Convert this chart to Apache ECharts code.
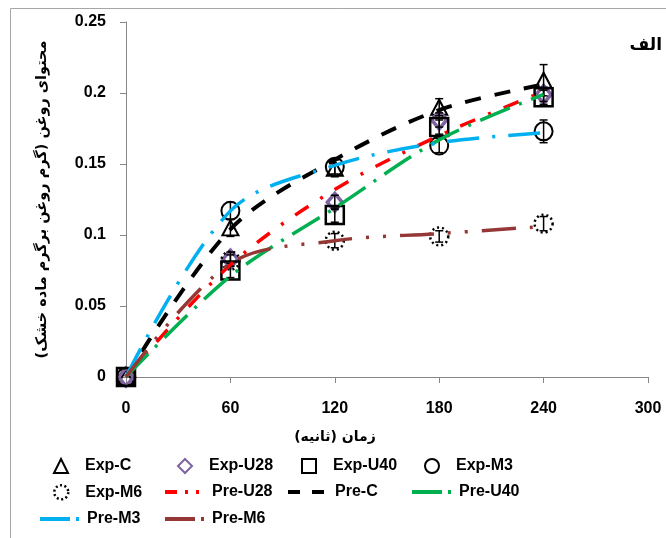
<!DOCTYPE html>
<html><head><meta charset="utf-8">
<script src="https://cdn.jsdelivr.net/npm/echarts@6/dist/echarts.min.js"></script>
<style>html,body{margin:0;padding:0;background:#fff}#c{width:666px;height:538px}</style>
</head><body><div id="c"></div>
<script>
// ---- data ----
const times = [0, 60, 120, 180, 240];
const xTicks = [0, 60, 120, 180, 240, 300];
const yTicks = [0, 0.05, 0.1, 0.15, 0.2, 0.25];

const expC   = [0, 0.105, 0.147, 0.190, 0.209];
const expU28 = [0, 0.083, 0.123, 0.181, 0.199];
const expU40 = [0, 0.075, 0.114, 0.176, 0.197];
const expM3  = [0, 0.117, 0.148, 0.163, 0.173];
const expM6  = [0, 0.082, 0.096, 0.099, 0.108];

const errC   = [0, 0.006, 0.006, 0.006, 0.011];
const errU28 = [0, 0.005, 0.005, 0.005, 0.005];
const errU40 = [0, 0.005, 0.005, 0.005, 0.005];
const errM3  = [0, 0.006, 0.005, 0.005, 0.008];
const errM6  = [0, 0.004, 0.005, 0.004, 0.005];

const preU28 = [0, 0.079, 0.132, 0.170, 0.201];
const preC   = [0, 0.104, 0.153, 0.188, 0.206];
const preU40 = [0, 0.071, 0.119, 0.167, 0.199];
const preM3  = [0, 0.117, 0.149, 0.165, 0.172];
const preM6  = [0, 0.080, 0.096, 0.101, 0.106];

const xTitle = 'زمان (ثانیه)';
const yTitle = 'محتوای روغن (گرم روغن برگرم ماده خشک)';
const panelTitle = 'الف';

// ---- chart ----
const FONT = '"Liberation Sans", Arial, sans-serif';
const pair = arr => times.map((t, i) => [t, arr[i]]);

function expSeries(name, arr, symbol, size, border, borderWidth, borderType) {
  return {
    name, type: 'scatter', data: pair(arr), symbol, symbolSize: size, z: 2,
    itemStyle: { color: 'rgba(255,255,255,0)', borderColor: border, borderWidth, borderType: borderType || 'solid', opacity: 1 }
  };
}
function errSeries(arr, errs) {
  return {
    type: 'custom', silent: true, z: 3,
    data: times.map((t, i) => [t, arr[i], errs[i]]),
    encode: { x: 0, y: 1 },
    renderItem(params, api) {
      const x = api.value(0), y = api.value(1), e = api.value(2);
      if (!e) return null;
      const top = api.coord([x, y + e]), bot = api.coord([x, y - e]);
      const cw = 4, st = { stroke: '#000', lineWidth: 1.5 };
      return { type: 'group', children: [
        { type: 'line', shape: { x1: top[0], y1: top[1], x2: bot[0], y2: bot[1] }, style: st },
        { type: 'line', shape: { x1: top[0] - cw, y1: top[1], x2: top[0] + cw, y2: top[1] }, style: st },
        { type: 'line', shape: { x1: bot[0] - cw, y1: bot[1], x2: bot[0] + cw, y2: bot[1] }, style: st }
      ]};
    }
  };
}
function preSeries(name, arr, color, width, dash) {
  return {
    name, type: 'line', data: pair(arr), symbol: 'none', showSymbol: false, smooth: 0.33, z: 4,
    itemStyle: { color },
    lineStyle: { color, width, type: dash, cap: 'butt' }
  };
}

const TS = { fontFamily: FONT, fontWeight: 'bold', fontSize: 16, color: '#000' };
// legend for a marker item: icon centred at cx
function legExp(name, cx, cy, extra) {
  return Object.assign({
    data: [name], left: cx - 7, top: cy - 9, itemWidth: 14, itemHeight: 14, selectedMode: false, padding: 0,
    textStyle: Object.assign({ padding: [0, 0, 0, 12] }, TS)
  }, extra || {});
}
// legend for a line item: line from x0, text right after
function legPre(name, x0, cy, dash) {
  return {
    data: [name], left: x0, top: cy - 9, itemWidth: 42, itemHeight: 16, selectedMode: false, padding: 0,
    itemStyle: { opacity: 0 },
    lineStyle: { width: 4, type: dash, cap: 'butt' },
    textStyle: TS
  };
}

const chart = echarts.init(document.getElementById('c'), null, { renderer: 'canvas' });
chart.setOption({
  animation: false,
  backgroundColor: '#fff',
  grid: { left: 126, right: 18, top: 22, bottom: 161 },
  xAxis: {
    type: 'value', min: xTicks[0], max: xTicks[xTicks.length - 1], interval: 60,
    axisLine: { lineStyle: { color: '#868686', width: 1 } },
    axisTick: { inside: false, length: 6, lineStyle: { color: '#868686' } },
    splitLine: { show: false },
    axisLabel: { margin: 24, fontFamily: FONT, fontWeight: 'bold', fontSize: 16, color: '#000' }
  },
  yAxis: {
    type: 'value', min: yTicks[0], max: yTicks[yTicks.length - 1], interval: 0.05,
    axisLine: { show: true, lineStyle: { color: '#868686', width: 1 } },
    axisTick: { show: true, inside: false, length: 6, lineStyle: { color: '#868686' } },
    splitLine: { show: false },
    axisLabel: {
      margin: 20, fontFamily: FONT, fontWeight: 'bold', fontSize: 16, color: '#000',
      formatter: v => v === 0 ? '0' : String(+v.toFixed(2))
    },
    name: yTitle, nameLocation: 'middle', nameRotate: 90, nameGap: 76,
    nameTextStyle: { fontFamily: '"DejaVu Sans", sans-serif', fontWeight: 'bold', fontSize: 14.5, color: '#000' }
  },
  legend: [
    legExp('Exp-C', 60, 467), legExp('Exp-U28', 184, 467), legExp('Exp-U40', 308, 467), legExp('Exp-M3', 431, 467),
    legExp('Exp-M6', 60, 493, { itemStyle: { borderType: [2, 2.5], borderWidth: 2.5, borderColor: '#000', color: 'rgba(255,255,255,0)' } }),
    legPre('Pre-U28', 163, 493, [12, 8, 3, 8, 3, 8]), legPre('Pre-C', 286, 493, [12, 12]), legPre('Pre-U40', 410, 493, [30, 6, 3, 6]),
    legPre('Pre-M3', 38, 520, [30, 6, 3, 6]), legPre('Pre-M6', 163, 520, [30, 6, 3, 6])
  ],
  graphic: [
    { type: 'rect', shape: { x: 10.5, y: 8.5, width: 700, height: 600 }, style: { fill: null, stroke: '#a6a6a6', lineWidth: 1 }, silent: true },
    { type: 'text', x: 335, y: 437, style: { text: xTitle, fontFamily: '"DejaVu Sans", sans-serif', fontWeight: 'bold', fontSize: 14, fill: '#000', align: 'center', verticalAlign: 'middle' } },
    { type: 'text', x: 662, y: 46, style: { text: panelTitle, fontFamily: '"DejaVu Sans", sans-serif', fontWeight: 'bold', fontSize: 17, fill: '#000', align: 'right', verticalAlign: 'middle' } }
  ],
  series: [
    expSeries('Exp-C', expC, 'triangle', [16, 15], '#000', 2),
    expSeries('Exp-U28', expU28, 'diamond', [15, 18], '#7f63a1', 3.5),
    expSeries('Exp-U40', expU40, 'rect', 18, '#000', 2.5),
    expSeries('Exp-M3', expM3, 'circle', 18, '#000', 2),
    expSeries('Exp-M6', expM6, 'circle', 18, '#000', 2.5, [2, 3]),
    errSeries(expC, errC), errSeries(expU28, errU28), errSeries(expU40, errU40),
    errSeries(expM3, errM3), errSeries(expM6, errM6),
    preSeries('Pre-U28', preU28, '#ff0000', 3.5, [16, 14, 3, 14]),
    preSeries('Pre-C', preC, '#000000', 4, [16, 14]),
    preSeries('Pre-U40', preU40, '#00b050', 3.5, [32, 10, 3, 10]),
    preSeries('Pre-M3', preM3, '#00b0f0', 3.5, [32, 13, 3, 13]),
    preSeries('Pre-M6', preM6, '#953735', 3.5, [34, 14, 3, 14, 3, 14])
  ]
});
</script></body></html>
